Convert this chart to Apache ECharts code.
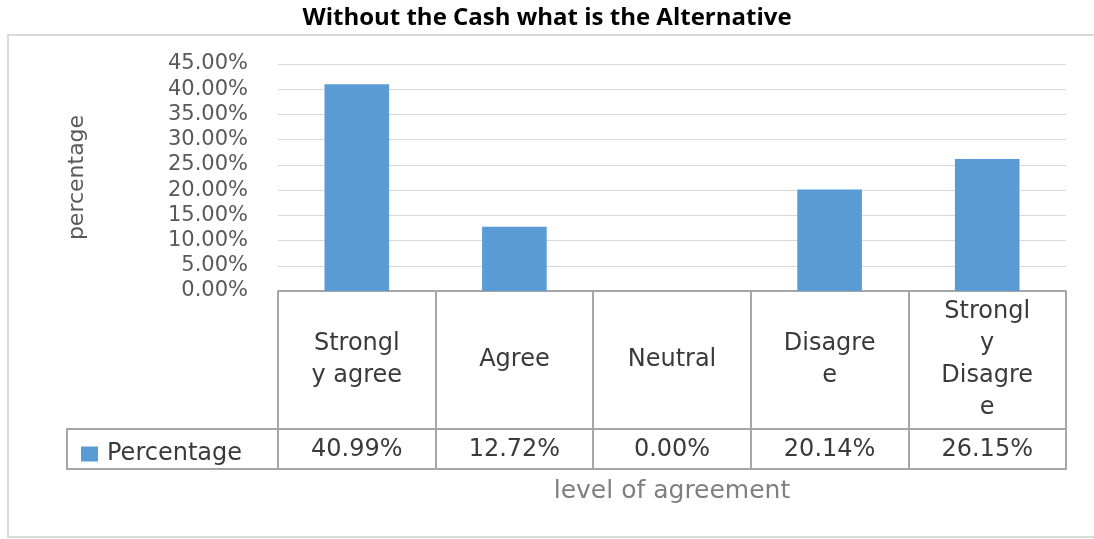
<!DOCTYPE html>
<html>
<head>
<meta charset="utf-8">
<script src="https://cdn.jsdelivr.net/npm/echarts@6/dist/echarts.min.js"></script>
<style>
  html, body { margin: 0; padding: 0; background: #fff; }
  #chart { width: 1094px; height: 539px; }
</style>
</head>
<body>
<div id="chart"></div>
<script>
// data
const categories = ['Strongl\ny agree', 'Agree', 'Neutral', 'Disagre\ne', 'Strongl\ny\nDisagre\ne']
const percentages = [40.99, 12.72, 0.00, 20.14, 26.15]
const seriesName = 'Percentage'
const yTicks = { min: 0, max: 45, interval: 5 }

const chart = echarts.init(document.getElementById('chart'))

const tableColor = '#a6a6a6'
const textDark = '#3a3a3a'

const option = {
  animation: false,
  title: {
    text: 'Without the Cash what is the Alternative',
    left: 'center',
    top: 1,
    textStyle: {
      fontFamily: 'Open Sans, sans-serif',
      fontWeight: 'bold',
      fontSize: 24,
      color: '#000'
    }
  },
  legend: {
    left: 76,
    top: 437,
    icon: 'rect',
    itemWidth: 17,
    itemHeight: 15,
    data: [seriesName],
    textStyle: {
      fontFamily: 'DejaVu Sans',
      fontSize: 24,
      color: textDark,
      padding: [0, 0, 0, 4]
    }
  },
  grid: {
    left: 278,
    right: 28,
    top: 64,
    bottom: 248
  },
  xAxis: [
    {
      type: 'category',
      data: categories,
      name: 'level of agreement',
      nameLocation: 'middle',
      nameGap: 188,
      nameTextStyle: {
        fontFamily: 'DejaVu Sans',
        fontSize: 25,
        color: '#7f7f7f'
      },
      axisLine: { show: true, lineStyle: { color: tableColor, width: 2 } },
      axisTick: { show: true, length: 178, lineStyle: { color: tableColor, width: 2 } },
      axisLabel: {
        interval: 0,
        margin: 69,
        verticalAlign: 'middle',
        fontFamily: 'DejaVu Sans',
        fontSize: 24,
        lineHeight: 32,
        color: textDark
      }
    },
    {
      type: 'category',
      position: 'bottom',
      offset: 138,
      data: percentages.map(v => v.toFixed(2) + '%'),
      axisLine: { show: false },
      axisTick: { show: false },
      axisLabel: {
        interval: 0,
        margin: 21,
        verticalAlign: 'middle',
        fontFamily: 'DejaVu Sans',
        fontSize: 24,
        color: textDark
      }
    }
  ],
  yAxis: {
    type: 'value',
    min: yTicks.min,
    max: yTicks.max,
    interval: yTicks.interval,
    name: 'percentage',
    nameLocation: 'middle',
    nameGap: 190,
    nameTextStyle: {
      fontFamily: 'DejaVu Sans',
      fontSize: 22,
      color: '#595959'
    },
    axisLine: { show: false },
    axisTick: { show: false },
    splitLine: { lineStyle: { color: '#d9d9d9', width: 1 } },
    axisLabel: {
      margin: 30,
      fontFamily: 'DejaVu Sans',
      fontSize: 21,
      color: '#595959',
      formatter: v => v.toFixed(2) + '%'
    }
  },
  series: [
    {
      name: seriesName,
      type: 'bar',
      data: percentages,
      barWidth: '41%',
      itemStyle: { color: '#5b9bd5' }
    }
  ],
  graphic: [
    {
      // outer chart frame
      type: 'rect',
      shape: { x: 8, y: 35, width: 1094, height: 502 },
      style: { fill: 'none', stroke: '#d9d9d9', lineWidth: 2 },
      silent: true
    },
    {
      // value row of the data table (with legend key cell)
      type: 'rect',
      shape: { x: 67, y: 429, width: 999, height: 40 },
      style: { fill: 'none', stroke: tableColor, lineWidth: 2 },
      silent: true
    }
  ]
}

chart.setOption(option)
</script>
</body>
</html>
